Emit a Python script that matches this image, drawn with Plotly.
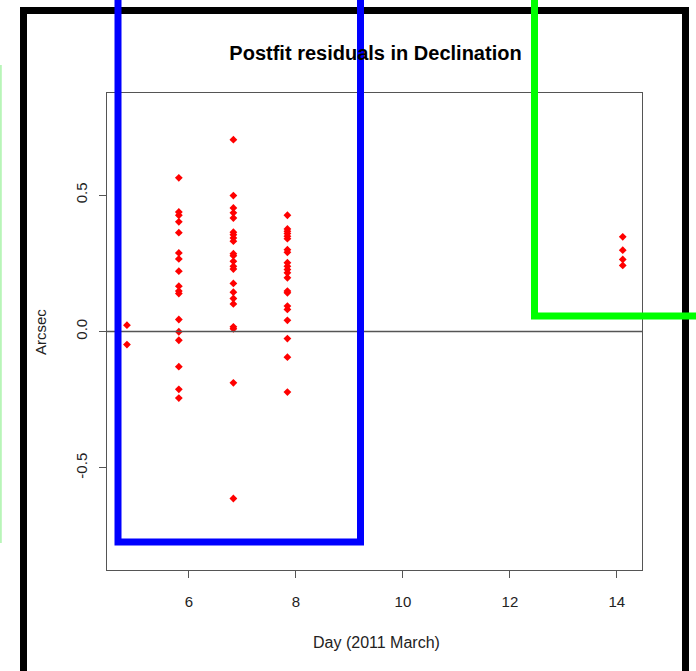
import plotly.graph_objects as go

# Observation epochs (day of 2011 March) and declination residuals (arcsec)
day_a = [4.84, 4.84]
res_a = [0.023, -0.048]

day_b = [5.81] * 17
res_b = [0.563, 0.438, 0.426, 0.402, 0.362, 0.288, 0.266, 0.221, 0.166,
         0.148, 0.139, 0.044, -0.001, -0.032, -0.129, -0.212, -0.244]

day_c = [6.83] * 22
res_c = [0.703, 0.498, 0.453, 0.435, 0.416, 0.364, 0.355, 0.343, 0.331,
         0.285, 0.278, 0.257, 0.239, 0.229, 0.176, 0.144, 0.121, 0.101,
         0.017, 0.010, -0.188, -0.612]

day_d = [7.84] * 21
res_d = [0.426, 0.376, 0.367, 0.359, 0.349, 0.340, 0.300, 0.290, 0.252,
         0.239, 0.227, 0.215, 0.197, 0.148, 0.142, 0.093, 0.081, 0.041,
         -0.026, -0.094, -0.222]

day_e = [14.11] * 4
res_e = [0.347, 0.298, 0.264, 0.242]

x_ticks = [6, 8, 10, 12, 14]
y_ticks = [-0.5, 0.0, 0.5]
y_tick_text = ["-0.5", "0.0", "0.5"]

days = day_a + day_b + day_c + day_d + day_e
residuals = res_a + res_b + res_c + res_d + res_e

W, H = 696, 671
ML, MR, MT, MB = 107, 54, 93, 101
PW, PH = W - ML - MR, H - MT - MB


def px(x):
    return (x - ML) / PW


def py(y):
    return (H - MB - y) / PH


FONT = "Liberation Sans, Arial, sans-serif"

fig = go.Figure()
fig.add_trace(go.Scatter(
    x=days, y=residuals, mode="markers",
    marker=dict(symbol="diamond", size=6, color="#ff0000", line=dict(width=0)),
    showlegend=False, hoverinfo="x+y",
))

axis_common = dict(
    showline=True, mirror=True, linecolor="#555555", linewidth=1,
    ticks="outside", ticklen=7, tickcolor="#555555", tickwidth=1,
    showgrid=False, zeroline=False,
    tickfont=dict(family=FONT, size=15, color="#222222"),
)

fig.update_xaxes(range=[4.467, 14.47], tickvals=x_ticks,
                 ticklabelstandoff=11, **axis_common)
fig.update_yaxes(range=[-0.874, 0.874], tickvals=y_ticks, ticktext=y_tick_text,
                 tickangle=-90, ticklabelstandoff=6, **axis_common)

shapes = [
    # reference line at zero residual
    dict(type="line", xref="paper", yref="y", x0=0, x1=1, y0=0, y1=0,
         line=dict(color="#555555", width=1.5)),
    # black frame
    dict(type="path", xref="paper", yref="paper",
         path=f"M {px(23.5)} {py(690)} L {px(23.5)} {py(10.5)} "
              f"L {px(685.5)} {py(10.5)} L {px(685.5)} {py(690)}",
         line=dict(color="#000000", width=7)),
    # blue box
    dict(type="path", xref="paper", yref="paper",
         path=f"M {px(118)} {py(-10)} L {px(118)} {py(542)} "
              f"L {px(360.5)} {py(542)} L {px(360.5)} {py(-10)}",
         line=dict(color="#0000ff", width=7)),
    # green corner
    dict(type="path", xref="paper", yref="paper",
         path=f"M {px(534.5)} {py(-10)} L {px(534.5)} {py(316)} L {px(710)} {py(316)}",
         line=dict(color="#00ff00", width=7)),
    # faint green edge at far left
    dict(type="line", xref="paper", yref="paper",
         x0=px(0.8), x1=px(0.8), y0=py(65), y1=py(543),
         line=dict(color="#b8f5b8", width=2)),
]

annotations = [
    dict(text="Day (2011 March)", xref="paper", yref="paper",
         x=px(376), y=py(642), xanchor="center", yanchor="middle",
         showarrow=False, font=dict(family=FONT, size=16, color="#222222")),
    dict(text="Arcsec", xref="paper", yref="paper",
         x=px(40), y=py(332), xanchor="center", yanchor="middle", textangle=-90,
         showarrow=False, font=dict(family=FONT, size=15, color="#222222")),
]

fig.update_layout(
    width=W, height=H,
    margin=dict(l=ML, r=MR, t=MT, b=MB),
    paper_bgcolor="white", plot_bgcolor="white",
    title=dict(text="<b>Postfit residuals in Declination</b>",
               x=px(375.5), xref="paper", xanchor="center",
               y=1 - 53 / H, yref="container", yanchor="middle",
               font=dict(family=FONT, size=20, color="#000000")),
    shapes=shapes, annotations=annotations,
)

fig.write_html("out.html")
